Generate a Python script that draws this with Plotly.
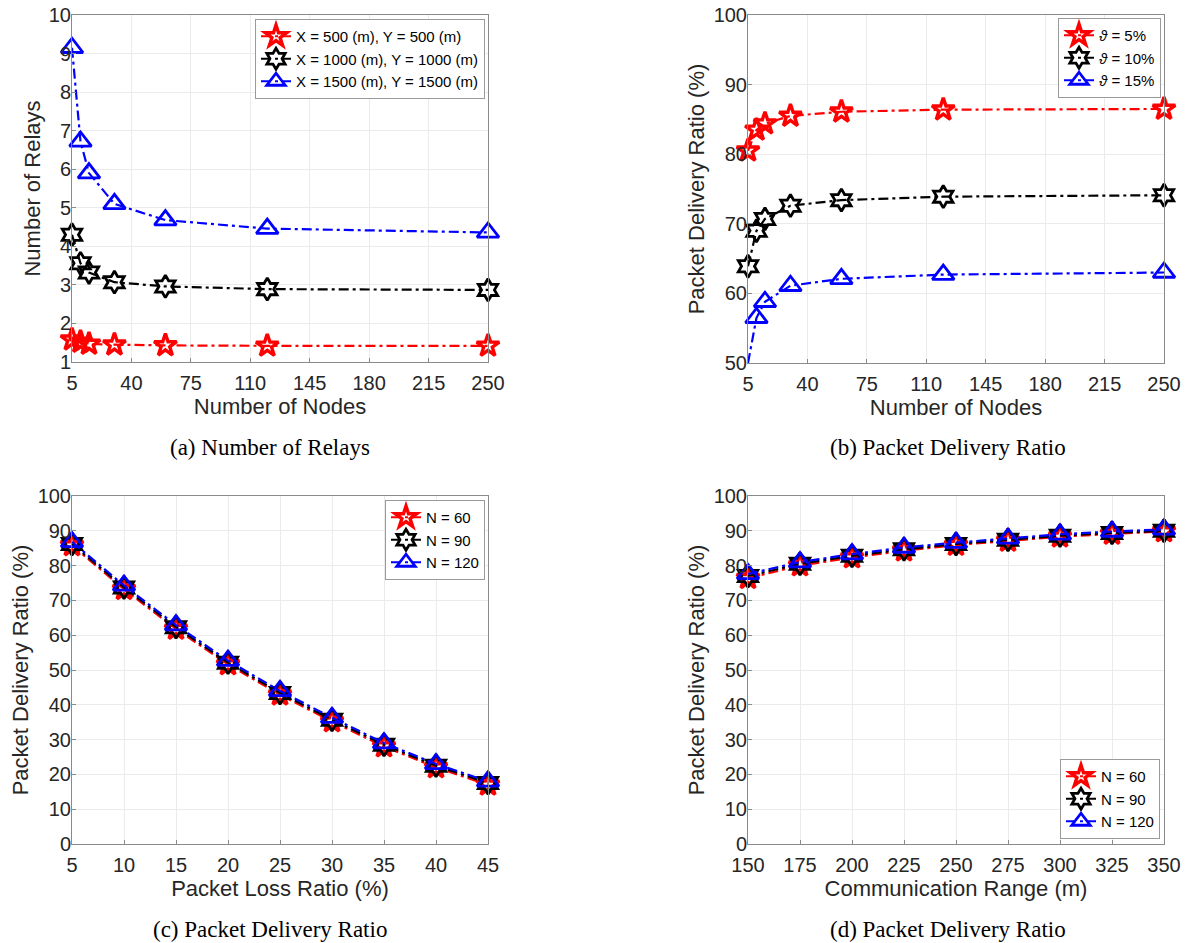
import plotly.graph_objects as go

# ---- data ----
nodes = [5, 10, 15, 30, 60, 120, 250]
relays_500 = [1.58, 1.52, 1.47, 1.45, 1.43, 1.42, 1.42]
relays_1000 = [4.30, 3.56, 3.32, 3.07, 2.96, 2.89, 2.87]
relays_1500 = [9.15, 6.72, 5.90, 5.10, 4.68, 4.46, 4.36]

pdr_theta5 = [80.5, 83.5, 84.4, 85.5, 86.1, 86.4, 86.5]
pdr_theta10 = [63.9, 69.0, 70.7, 72.6, 73.4, 73.9, 74.1]
pdr_theta15 = [50.0, 56.5, 58.8, 61.1, 62.1, 62.7, 63.0]

loss_ratio = [5, 10, 15, 20, 25, 30, 35, 40, 45]
pdr_loss_n60 = [85.8, 73.2, 61.8, 51.6, 42.9, 35.2, 28.0, 22.0, 17.0]
pdr_loss_n90 = [86.2, 73.7, 62.3, 52.1, 43.4, 35.7, 28.5, 22.5, 17.5]
pdr_loss_n120 = [86.8, 74.3, 62.9, 52.7, 44.0, 36.3, 29.0, 23.0, 18.0]

comm_range = [150, 175, 200, 225, 250, 275, 300, 325, 350]
pdr_range_n60 = [76.4, 80.0, 82.3, 84.3, 85.9, 87.1, 88.3, 89.1, 89.8]
pdr_range_n90 = [77.0, 80.5, 82.8, 84.7, 86.2, 87.4, 88.6, 89.4, 90.0]
pdr_range_n120 = [77.6, 81.0, 83.3, 85.2, 86.6, 87.8, 89.0, 89.8, 90.4]

caption_labels = ["(a) Number of Relays", "(b) Packet Delivery Ratio",
                  "(c) Packet Delivery Ratio", "(d) Packet Delivery Ratio"]

# ---- styling ----
W, H = 1189, 943
SANS = "Liberation Sans, Arial, sans-serif"
SERIF = "Liberation Serif, Times New Roman, serif"
TXT = "#262626"
DASH = "10px,4px,3px,4px"

styles = [
    dict(color="#ff0000", symbol="star-open", lw=3.4, size=17),
    dict(color="#000000", symbol="hexagram-open", lw=2.8, size=17),
    dict(color="#0000ff", symbol="triangle-up-open", lw=2.8, size=19),
]


def px_x(p):
    return p / W


def px_y(p):
    return 1 - p / H


# plot-area rectangles in pixels: (left, right, top, bottom)
boxes = [(72, 488, 15, 362), (748, 1164, 15, 363),
         (72, 488, 496, 844), (748, 1164, 496, 844)]

fig = go.Figure()

panels = [
    (nodes, [relays_500, relays_1000, relays_1500],
     ["X = 500 (m), Y = 500 (m)", "X = 1000 (m), Y = 1000 (m)",
      "X = 1500 (m), Y = 1500 (m)"]),
    (nodes, [pdr_theta5, pdr_theta10, pdr_theta15],
     ["<i>ϑ</i> = 5%", "<i>ϑ</i> = 10%", "<i>ϑ</i> = 15%"]),
    (loss_ratio, [pdr_loss_n60, pdr_loss_n90, pdr_loss_n120],
     ["N = 60", "N = 90", "N = 120"]),
    (comm_range, [pdr_range_n60, pdr_range_n90, pdr_range_n120],
     ["N = 60", "N = 90", "N = 120"]),
]

for k, (xs, series, names) in enumerate(panels):
    suffix = "" if k == 0 else str(k + 1)
    for j, (ys, name) in enumerate(zip(series, names)):
        st = styles[j]
        sizes = [st["size"]] * len(xs)
        if k == 1 and j == 2:
            sizes[0] = 0  # point sits on the lower axis edge
        fig.add_trace(go.Scatter(
            x=xs, y=ys, name=name, mode="lines+markers",
            xaxis="x" + suffix, yaxis="y" + suffix,
            legend="legend" + suffix, cliponaxis=False,
            line=dict(color=st["color"], width=2.2, dash=DASH),
            marker=dict(symbol=st["symbol"], size=sizes, opacity=1,
                        color=st["color"],
                        line=dict(color=st["color"], width=st["lw"])),
        ))

axis_common = dict(
    showgrid=True, gridcolor="#ebebeb", gridwidth=1,
    showline=True, linecolor="#8a8a8a", linewidth=1, mirror=True,
    ticks="inside", ticklen=4, tickcolor="#8a8a8a",
    tickfont=dict(family=SANS, size=20, color=TXT),
    zeroline=False, automargin=False,
)

x_specs = [
    dict(range=[5, 250], tickvals=[5, 40, 75, 110, 145, 180, 215, 250],
         title="Number of Nodes"),
    dict(range=[5, 250], tickvals=[5, 40, 75, 110, 145, 180, 215, 250],
         title="Number of Nodes"),
    dict(range=[5, 45], dtick=5, tick0=5, title="Packet Loss Ratio (%)"),
    dict(range=[150, 350], dtick=25, tick0=150,
         title="Communication Range (m)"),
]
y_specs = [
    dict(range=[1, 10], dtick=1, tick0=1, title="Number of Relays"),
    dict(range=[50, 100], dtick=10, tick0=50,
         title="Packet Delivery Ratio (%)"),
    dict(range=[0, 100], dtick=10, tick0=0,
         title="Packet Delivery Ratio (%)"),
    dict(range=[0, 100], dtick=10, tick0=0,
         title="Packet Delivery Ratio (%)"),
]

legend_pos = [(485, 19, "right", "top"), (1161, 18, "right", "top"),
              (485, 500, "right", "top"), (1160, 839, "right", "bottom")]

layout = dict(
    width=W, height=H,
    margin=dict(l=0, r=0, t=0, b=0),
    paper_bgcolor="white", plot_bgcolor="white",
    annotations=[],
)

for k in range(4):
    suffix = "" if k == 0 else str(k + 1)
    l, r, t, b = boxes[k]
    xs = dict(axis_common)
    xs.update(domain=[px_x(l), px_x(r)], anchor="y" + suffix,
              ticklabelstandoff=3)
    xsp = dict(x_specs[k])
    xs["title"] = dict(text=xsp.pop("title"), standoff=4,
                       font=dict(family=SANS, size=22, color=TXT))
    xs.update(xsp)
    ys = dict(axis_common)
    ys.update(domain=[px_y(b), px_y(t)], anchor="x" + suffix,
              ticklabelstandoff=-4)
    ysp = dict(y_specs[k])
    ys["title"] = dict(text=ysp.pop("title"), standoff=2,
                       font=dict(family=SANS, size=22, color=TXT))
    ys.update(ysp)
    layout["xaxis" + suffix] = xs
    layout["yaxis" + suffix] = ys

    lx, ly, xa, ya = legend_pos[k]
    layout["legend" + suffix] = dict(
        x=px_x(lx), y=px_y(ly), xanchor=xa, yanchor=ya,
        bgcolor="white", bordercolor="#9a9a9a", borderwidth=1,
        font=dict(family=SANS, size=15, color="#000000"),
        tracegroupgap=0, itemwidth=30,
    )

    cx = 270 if k % 2 == 0 else 948
    cy = 448 if k < 2 else 929
    layout["annotations"].append(dict(
        text=caption_labels[k], x=px_x(cx), y=px_y(cy),
        xref="paper", yref="paper", xanchor="center", yanchor="middle",
        showarrow=False, font=dict(family=SERIF, size=23, color="#000000"),
    ))

fig.update_layout(layout)
fig.write_html("out.html")
